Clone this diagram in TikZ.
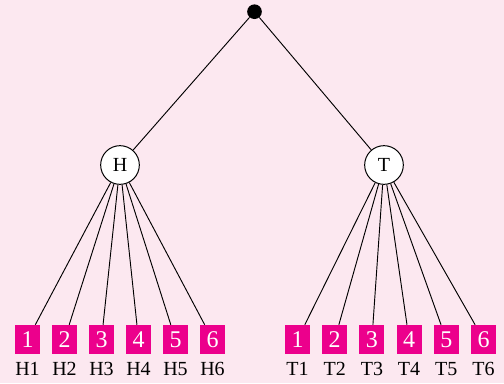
\documentclass[tikz,border=0pt]{standalone}
\usepackage{fontspec}
\setmainfont{Liberation Serif}
\usepackage{tikz}
\usetikzlibrary{positioning}
\definecolor{coinpink}{HTML}{FCE8F0}
\definecolor{coinmagenta}{HTML}{EC008C}

\begin{document}
\begin{tikzpicture}[x=0.75pt, y=-0.75pt,
  rootdot/.style={circle, fill=black, minimum size=11pt, inner sep=0pt},
  toss/.style={circle, draw, line width=0.75pt, fill=white, minimum size=29pt, inner sep=0pt, font=\fontsize{15}{17}\selectfont},
  die/.style={rectangle, fill=coinmagenta, text=white, minimum width=18.75pt, minimum height=21.75pt, inner sep=0pt, font=\fontsize{18}{18}\selectfont},
  outcome/.style={inner sep=0pt, font=\fontsize{15}{17}\selectfont},
  branch/.style={line width=0.7pt}]
\fill[coinpink] (0,0) rectangle (504,383);
\useasboundingbox (0,0) rectangle (504,383);
\node[rootdot] (root) at (254.5,11.7) {};
\node[toss] (H) at (120,165) {H};
\node[toss] (T) at (384,165) {T};
\draw[branch] (root) -- (H);
\draw[branch] (root) -- (T);
% heads, then the die
\foreach \i in {1,...,6} {
  \node[die] (h\i) at ({27.5+37*(\i-1)},339.5) {\i};
  \node[outcome, below=6pt of h\i] (hl\i) {H\i};
  \draw[branch] (H) -- (h\i);
}
% tails, then the die
\foreach \i in {1,...,6} {
  \node[die] (t\i) at ({297.5+37.2*(\i-1)},339.5) {\i};
  \node[outcome, below=6pt of t\i] (tl\i) {T\i};
  \draw[branch] (T) -- (t\i);
}
\end{tikzpicture}
\end{document}
